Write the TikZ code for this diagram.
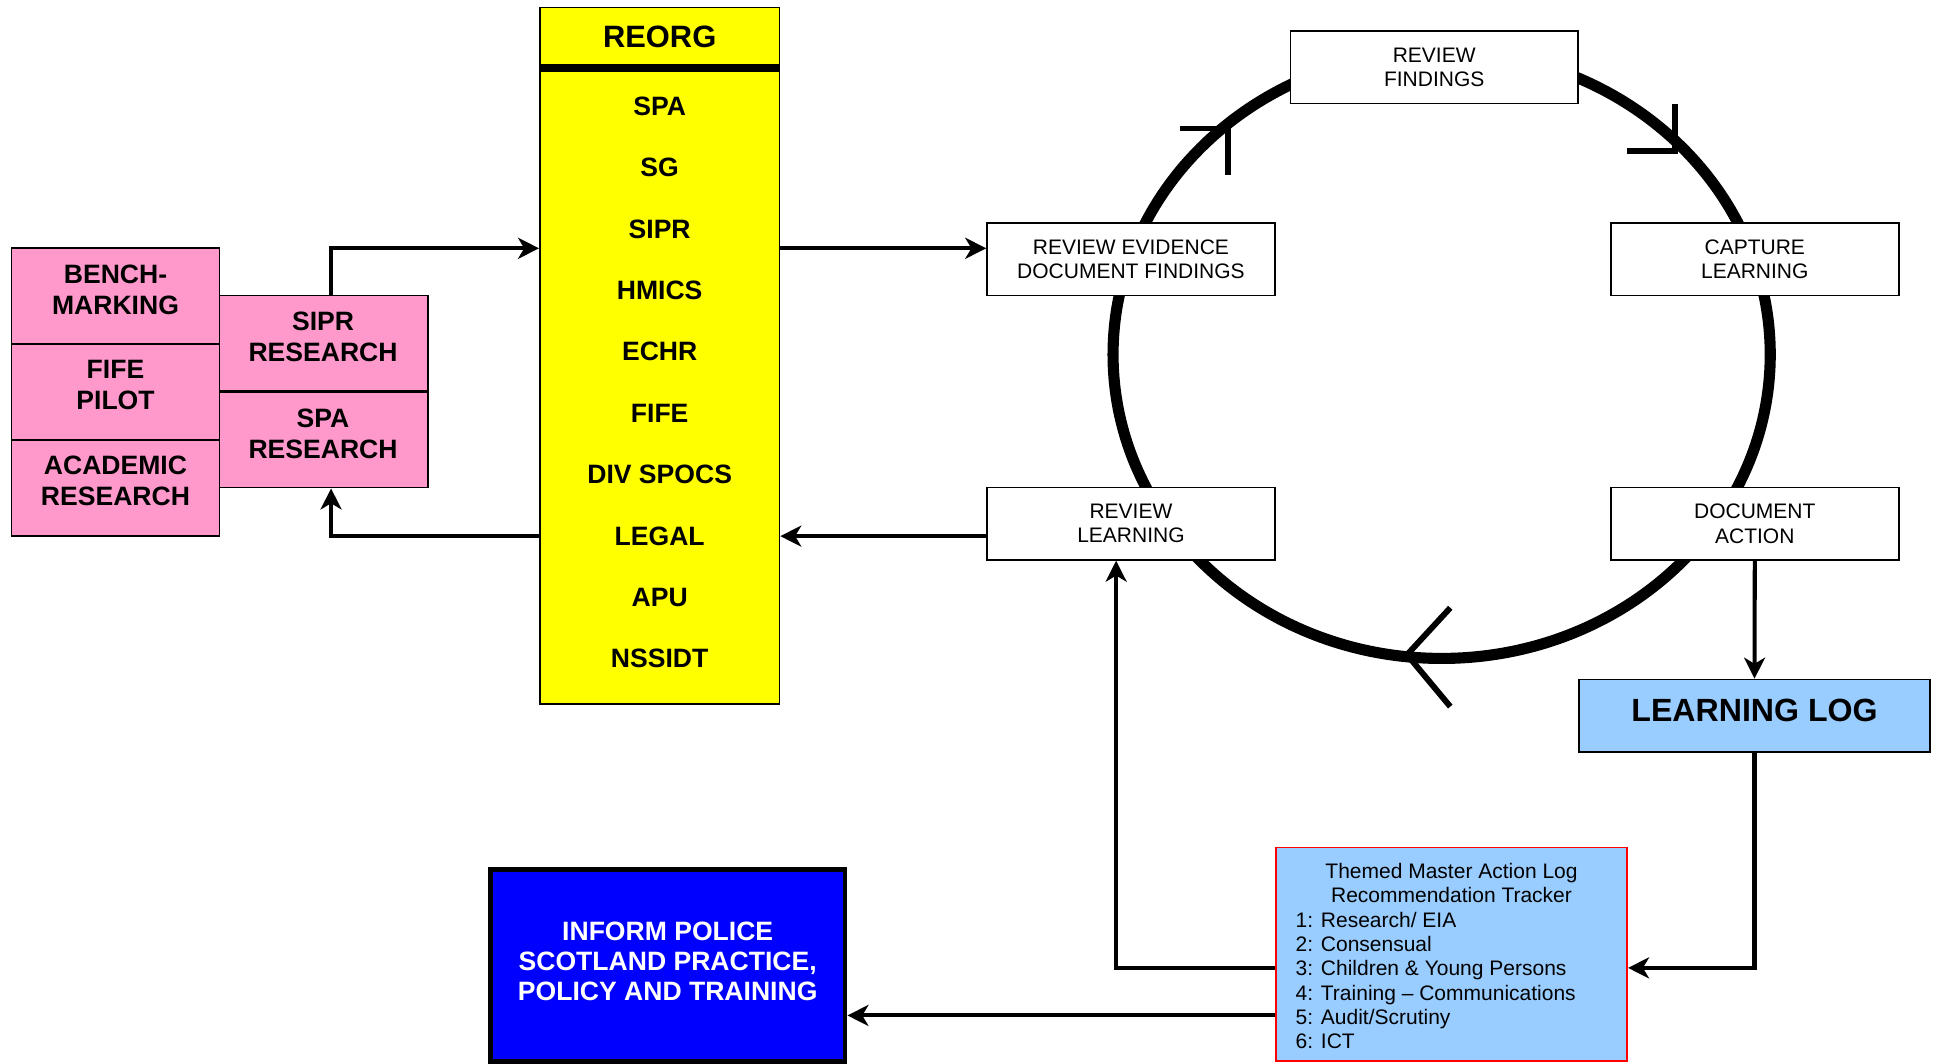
\documentclass[tikz,border=0pt]{standalone}
\usepackage{fontspec}
\setmainfont{Liberation Sans}
\usetikzlibrary{arrows.meta}
\definecolor{pinkc}{HTML}{FF99CC}
\definecolor{yell}{HTML}{FFFF00}
\definecolor{lblue}{HTML}{99CCFF}
\definecolor{dblue}{HTML}{0000FF}
\begin{document}
\begin{tikzpicture}[x=1pt,y=-1pt,
  bx/.style={draw, line width=1.3pt, inner sep=0pt, anchor=center},
  pbox/.style={bx, fill=pinkc, minimum width=168.5pt, minimum height=77.5pt},
  bigtxt/.style={font=\fontsize{21.5}{25}\selectfont\bfseries, align=center, inner sep=0pt},
  wbox/.style={bx, fill=white, minimum width=233pt, minimum height=58.5pt,
    font=\fontsize{17}{19.5}\selectfont, align=center},
  smalltxt/.style={font=\fontsize{17}{19.7}\selectfont, inner sep=0pt},
  conn/.style={line width=3.3pt},
  arr/.style={-{Stealth[length=17pt,width=17pt,inset=5pt]}},
  cyc/.style={line width=9pt},
  cmark/.style={line width=4.8pt, line join=miter}
]
\useasboundingbox (0,0) rectangle (1568,861);

% cycle ellipse
\draw[cyc] (1167,287) ellipse [x radius=266, y radius=246];
\draw[cmark] (955,104) -- (994,104) -- (994,142);
\draw[cmark] (1356,84) -- (1356,122) -- (1317,122);
\draw[cmark] (1174,492) -- (1139,530) -- (1174,572);

% pink boxes
\node[pbox] (bench) at (93.5,239.5) {};
\node[pbox] (fife) at (93.5,317) {};
\node[pbox] (acad) at (93.5,395) {};
\node[pbox] (sipr) at (262,278) {};
\node[pbox] (spa) at (262,356) {};
\node[bigtxt] (benchT) at (93.5,234.5) {BENCH-\\MARKING};
\node[bigtxt] (fifeT) at (93.5,312) {FIFE\\PILOT};
\node[bigtxt] (acadT) at (93.5,389.5) {ACADEMIC\\RESEARCH};
\node[bigtxt] (siprT) at (261.5,273) {SIPR\\RESEARCH};
\node[bigtxt] (spaT) at (261.5,351) {SPA\\RESEARCH};

% yellow column
\node[bx, fill=yell, minimum width=194pt, minimum height=564pt] (reorg) at (534,288) {};
\draw[line width=6pt] (reorg.west |- 0,55) -- (reorg.east |- 0,55);
\node[bigtxt, font=\fontsize{25}{30}\selectfont\bfseries] (hdr) at (534,29.5) {REORG};
\foreach \t [count=\i from 0] in {SPA,SG,SIPR,HMICS,ECHR,FIFE,DIV SPOCS,LEGAL,APU,NSSIDT}
  \node[bigtxt] (it\i) at (534,{86+49.7*\i}) {\t};

% cycle boxes
\node[wbox] (revfind) at (1161,54.5) {REVIEW\\FINDINGS};
\node[wbox] (revev) at (915.5,210) {REVIEW EVIDENCE\\DOCUMENT FINDINGS};
\node[wbox] (capture) at (1420.5,210) {CAPTURE\\LEARNING};
\node[wbox] (revlearn) at (915.5,424) {REVIEW\\LEARNING};
\node[wbox] (docact) at (1420.5,424) {DOCUMENT\\ACTION};

% learning log
\node[bx, fill=lblue, minimum width=284.5pt, minimum height=58.5pt] (log) at (1420.25,579.25) {};
\node[inner sep=0pt, font=\fontsize{26}{30}\selectfont\bfseries] (logT) at (1420.25,575.5) {LEARNING LOG};

% themed master action log
\node[bx, draw=red, fill=lblue, minimum width=284.5pt, minimum height=173pt] (tml) at (1175,772.5) {};
\node[smalltxt, anchor=base] (h1) at (1175,711) {Themed Master Action Log};
\node[smalltxt, anchor=base] (h2) at (1175,730.7) {Recommendation Tracker};
\node[smalltxt, anchor=base west] (l1) at (1048.6,750.4) {1: Research/ EIA};
\node[smalltxt, anchor=base west] (l2) at (1048.6,770.1) {2: Consensual};
\node[smalltxt, anchor=base west] (l3) at (1048.6,789.8) {3: Children \& Young Persons};
\node[smalltxt, anchor=base west] (l4) at (1048.6,809.5) {4: Training – Communications};
\node[smalltxt, anchor=base west] (l5) at (1048.6,829.2) {5: Audit/Scrutiny};
\node[smalltxt, anchor=base west] (l6) at (1048.6,848.9) {6: ICT};

% inform box
\node[bx, line width=4pt, fill=dblue, minimum width=287pt, minimum height=155pt] (inform) at (540.5,781.5) {};
\node[bigtxt, text=white, anchor=base] (in1) at (540.5,761) {INFORM POLICE};
\node[bigtxt, text=white, anchor=base] (in2) at (540.5,785.3) {SCOTLAND PRACTICE,};
\node[bigtxt, text=white, anchor=base] (in3) at (540.5,809.6) {POLICY AND TRAINING};

% connectors
\coordinate (kx) at (268,0);
\coordinate (kx2) at (903.5,0);
\coordinate (rowA) at (0,201);
\coordinate (rowB) at (0,434);
\coordinate (rowC) at (0,783.5);
\coordinate (rowD) at (0,822);
\draw[conn, arr] (sipr.north -| kx) |- (reorg.west |- rowA);
\draw[conn, arr] (reorg.east |- rowA) -- (revev.west |- rowA);
\draw[conn, arr] (revlearn.west |- rowB) -- (reorg.east |- rowB);
\draw[conn, arr] (reorg.west |- rowB) -| (spa.south -| kx);
\draw[conn, arr] (docact.south) -- (log.north);
\draw[conn, arr] (log.south) |- (tml.east |- rowC);
\draw[conn, arr] (tml.west |- rowC) -| (revlearn.south -| kx2);
\draw[conn, arr] (tml.west |- rowD) -- (inform.east |- rowD);
\end{tikzpicture}
\end{document}
